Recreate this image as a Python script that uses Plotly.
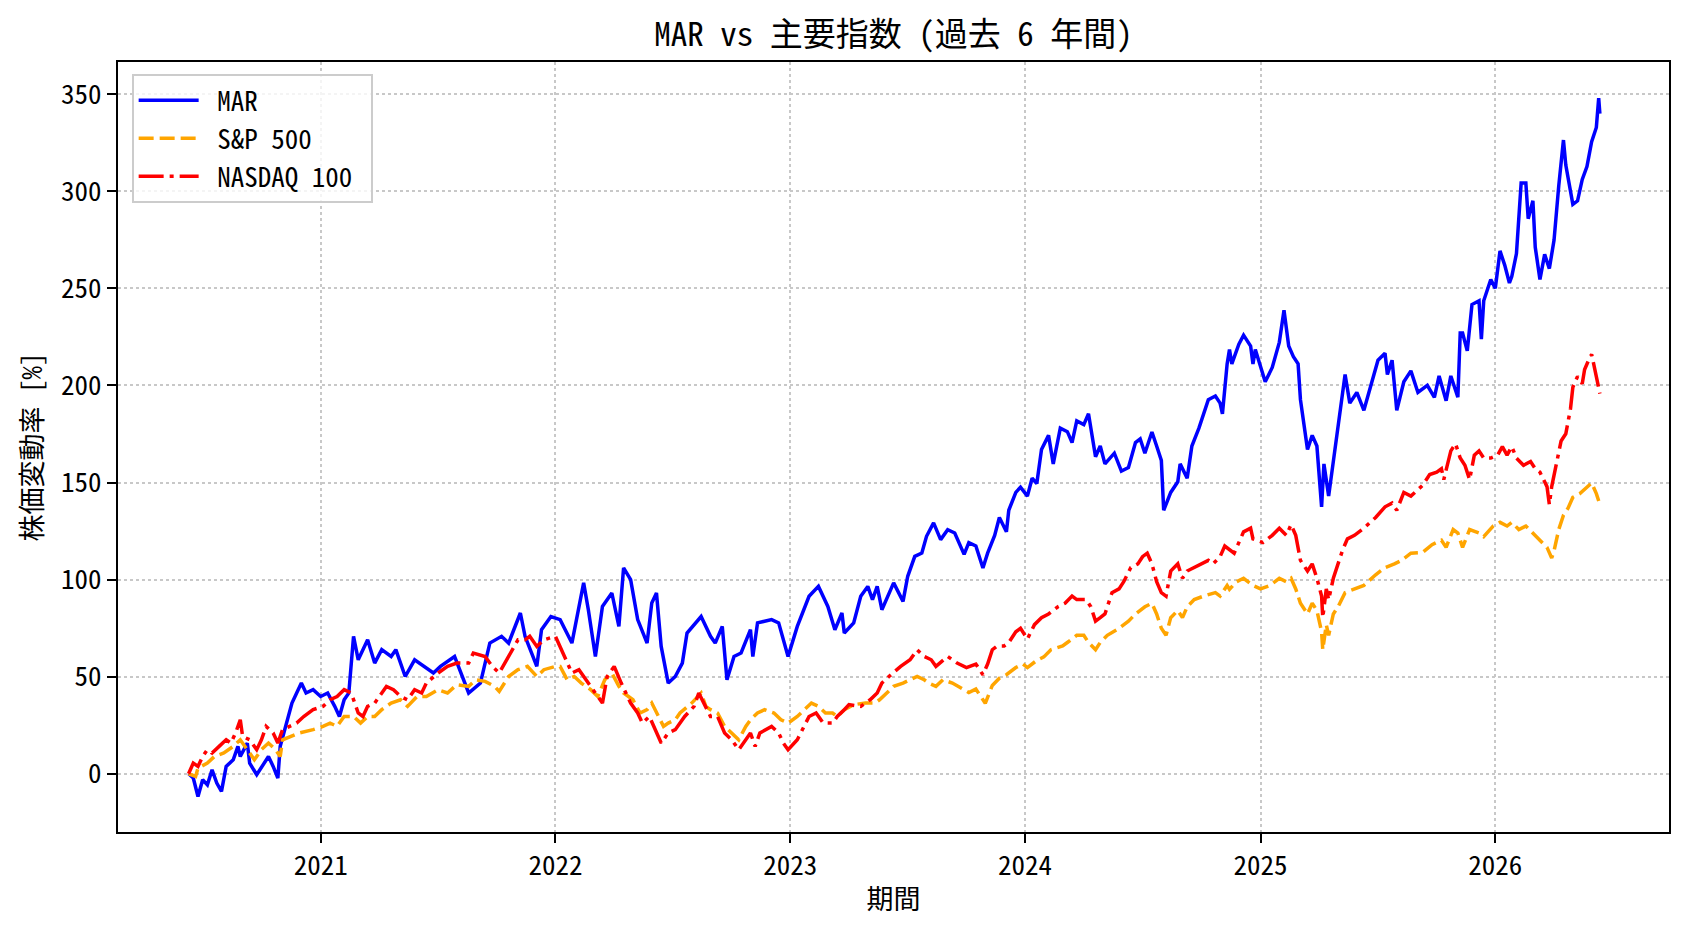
import plotly.graph_objects as go
import pandas as pd

# ---- data (decimal year, % change) ----
mar_t = [2020.44, 2020.46, 2020.48, 2020.50, 2020.52, 2020.54, 2020.56, 2020.58, 2020.60, 2020.63,
         2020.65, 2020.66, 2020.69, 2020.70, 2020.73, 2020.76, 2020.78, 2020.80, 2020.82, 2020.83,
         2020.86, 2020.88, 2020.90, 2020.92, 2020.94, 2020.97, 2021.00, 2021.03, 2021.06, 2021.08,
         2021.10, 2021.12, 2021.14, 2021.16, 2021.20, 2021.23, 2021.26, 2021.30, 2021.32, 2021.36,
         2021.40, 2021.44, 2021.48, 2021.51, 2021.57, 2021.63, 2021.68, 2021.72, 2021.77, 2021.80,
         2021.85, 2021.87, 2021.92, 2021.94, 2021.98, 2022.02, 2022.07, 2022.12, 2022.14, 2022.17,
         2022.20, 2022.24, 2022.27, 2022.29, 2022.32, 2022.35, 2022.39, 2022.41, 2022.43, 2022.45,
         2022.48, 2022.51, 2022.54, 2022.56, 2022.62, 2022.66, 2022.68, 2022.71, 2022.73, 2022.76,
         2022.79, 2022.83, 2022.84, 2022.86, 2022.92, 2022.95, 2022.99, 2023.03, 2023.08, 2023.12,
         2023.16, 2023.19, 2023.22, 2023.23, 2023.27, 2023.30, 2023.33, 2023.35, 2023.37, 2023.39,
         2023.44, 2023.48, 2023.50, 2023.53, 2023.56, 2023.58, 2023.61, 2023.64, 2023.67, 2023.70,
         2023.74, 2023.76, 2023.79, 2023.82, 2023.84, 2023.87, 2023.89, 2023.92, 2023.93, 2023.96,
         2023.98, 2024.01, 2024.03, 2024.05, 2024.07, 2024.10, 2024.12, 2024.15, 2024.18, 2024.20,
         2024.22, 2024.25, 2024.27, 2024.30, 2024.32, 2024.34, 2024.38, 2024.41, 2024.44, 2024.47,
         2024.49, 2024.51, 2024.54, 2024.56, 2024.58, 2024.59, 2024.62, 2024.65, 2024.66, 2024.69,
         2024.71, 2024.74, 2024.76, 2024.78, 2024.81, 2024.83, 2024.84, 2024.86, 2024.87, 2024.88,
         2024.91, 2024.93, 2024.96, 2024.97, 2024.98, 2025.02, 2025.05, 2025.08, 2025.10, 2025.12,
         2025.14, 2025.16, 2025.17, 2025.20, 2025.22, 2025.24, 2025.26, 2025.27, 2025.29, 2025.31,
         2025.33, 2025.36, 2025.38, 2025.41, 2025.44, 2025.47, 2025.50, 2025.53, 2025.54, 2025.56,
         2025.58, 2025.61, 2025.64, 2025.67, 2025.71, 2025.74, 2025.76, 2025.79, 2025.81, 2025.84,
         2025.85, 2025.86, 2025.88, 2025.90, 2025.93, 2025.94, 2025.95, 2025.98, 2026.00, 2026.02,
         2026.04, 2026.06, 2026.07, 2026.09, 2026.11, 2026.13, 2026.14, 2026.16, 2026.17, 2026.19,
         2026.21, 2026.23, 2026.25, 2026.27, 2026.29, 2026.30, 2026.33, 2026.35, 2026.37, 2026.39,
         2026.41, 2026.43, 2026.44, 2026.445]
mar_v = [0, -2.2, -11.7, -3.1, -5.7, 2, -4.8, -9.1, 3.8, 7.2,
         14.1, 8.9, 15.8, 5.5, -0.5, 5.5, 8.9, 3.8, -2.2, 14.1,
         27.8, 36.4, 41.6, 46.7, 41.6, 43.3, 39.8, 41.6, 34.7, 29.5,
         38.1, 41.6, 70.8, 58.7, 69, 57, 63.9, 60.4, 63.9, 50.1,
         58.7, 55.3, 51.9, 55.3, 60.4, 41.6, 46.7, 67.3, 70.8, 67.3,
         82.8, 70.8, 55.3, 74.2, 81, 79.4, 67.3, 98.3, 84.5, 60.4,
         86.2, 93.1, 75.9, 106, 100, 79.4, 67.3, 88, 93.1, 65.6,
         46.7, 50.1, 57, 72.5, 81, 70.8, 67.3, 75.9, 48.4, 60.4,
         62.2, 74.2, 60.4, 77.7, 79.4, 77.7, 60.4, 75.9, 91.4, 96.5,
         86.2, 74.2, 82.8, 72.5, 77.7, 91.4, 96.5, 89.7, 96.5, 84.5,
         98.3, 88.8, 101.7, 112, 113.7, 122.3, 129.2, 120.6, 125.7, 124,
         113, 119, 117.3, 106, 113.6, 122.8, 132, 124.6, 135.7, 144.9,
         147.6, 143, 152.2, 149.5, 167, 174.3, 159.6, 178, 176.2, 170.6,
         181.7, 179.8, 185.4, 163.3, 168.8, 159.6, 165.1, 155.9, 157.7, 170.6,
         172.5, 165.1, 176, 168.8, 161.4, 135.7, 144.9, 150.4, 159.6, 152.2,
         168.8, 178, 185.4, 192.7, 194.6, 190.9, 185.4, 211.1, 218.5, 211.1,
         221.3, 225.9, 220.3, 211.1, 218.5, 201.9, 209.3, 222.2, 238.7, 220.3,
         214.8, 211.1, 192.7, 167, 174.3, 168.8, 137.5, 159.6, 143, 161.4,
         179.8, 205.6, 190.9, 196.4, 187.2, 200.1, 213, 216.6, 205.6, 213,
         187.2, 201.9, 207.5, 196.4, 200.1, 193.9, 204.9, 192.1, 204.9, 193.9,
         227, 227, 217.8, 241.7, 243.6, 223.8, 243.6, 254.6, 250, 269.3,
         262, 252.8, 256.1, 267.9, 304.3, 304.3, 285.9, 295.1, 271.2, 254.6,
         267.5, 260.2, 274.9, 302.8, 326.4, 313.5, 293.3, 295.1, 306.1, 312.7,
         325.6, 332.9, 348, 340]

sp_t = [2020.44, 2020.47, 2020.48, 2020.52, 2020.55, 2020.59, 2020.63, 2020.66, 2020.69, 2020.72,
        2020.75, 2020.78, 2020.81, 2020.83, 2020.84, 2020.87, 2020.91, 2020.97, 2021.01, 2021.04,
        2021.07, 2021.10, 2021.14, 2021.17, 2021.20, 2021.23, 2021.26, 2021.30, 2021.34, 2021.37,
        2021.41, 2021.45, 2021.50, 2021.54, 2021.58, 2021.63, 2021.66, 2021.70, 2021.74, 2021.76,
        2021.80, 2021.84, 2021.88, 2021.92, 2021.95, 2022.00, 2022.02, 2022.05, 2022.08, 2022.11,
        2022.15, 2022.18, 2022.21, 2022.24, 2022.27, 2022.29, 2022.33, 2022.36, 2022.39, 2022.41,
        2022.44, 2022.46, 2022.48, 2022.51, 2022.53, 2022.58, 2022.62, 2022.64, 2022.66, 2022.69,
        2022.72, 2022.75, 2022.78, 2022.81, 2022.83, 2022.86, 2022.89, 2022.93, 2022.96, 2022.99,
        2023.03, 2023.06, 2023.09, 2023.12, 2023.15, 2023.18, 2023.20, 2023.23, 2023.27, 2023.32,
        2023.36, 2023.38, 2023.41, 2023.44, 2023.48, 2023.51, 2023.54, 2023.57, 2023.59, 2023.62,
        2023.65, 2023.69, 2023.73, 2023.76, 2023.79, 2023.82, 2023.83, 2023.86, 2023.89, 2023.92,
        2023.96, 2023.99, 2024.01, 2024.05, 2024.08, 2024.11, 2024.16, 2024.18, 2024.22, 2024.25,
        2024.27, 2024.30, 2024.32, 2024.35, 2024.40, 2024.44, 2024.47, 2024.51, 2024.54, 2024.56,
        2024.58, 2024.60, 2024.62, 2024.65, 2024.67, 2024.69, 2024.72, 2024.76, 2024.81, 2024.83,
        2024.86, 2024.87, 2024.90, 2024.93, 2024.97, 2025.00, 2025.04, 2025.08, 2025.11, 2025.13,
        2025.15, 2025.17, 2025.20, 2025.22, 2025.24, 2025.26, 2025.265, 2025.28, 2025.29, 2025.31,
        2025.33, 2025.36, 2025.40, 2025.44, 2025.49, 2025.53, 2025.57, 2025.60, 2025.64, 2025.69,
        2025.73, 2025.77, 2025.79, 2025.82, 2025.84, 2025.86, 2025.89, 2025.93, 2025.95, 2025.99,
        2026.02, 2026.05, 2026.07, 2026.10, 2026.13, 2026.16, 2026.19, 2026.22, 2026.24, 2026.25,
        2026.27, 2026.29, 2026.31, 2026.33, 2026.36, 2026.39, 2026.41, 2026.43, 2026.445]
sp_v = [0, -1.4, 2.9, 5.5, 8.9, 10.7, 14.1, 17.5, 12.4, 7.2,
        12.4, 15.8, 12.4, 8.9, 17.5, 19.2, 21, 22.7, 24.4, 26.1,
        24.4, 29.5, 29.5, 26.1, 29.5, 29.5, 33, 36.4, 38.1, 34.7,
        39.8, 39.8, 43.3, 41.6, 45.9, 45, 48.4, 47.6, 45, 42.4,
        50.1, 53.6, 55.3, 50.1, 53.6, 55.3, 55.3, 48.4, 50.1, 46.7,
        43.3, 39.8, 48.4, 51.9, 45, 41.6, 38.1, 31.3, 33, 36.4,
        29.5, 24.4, 26.1, 27.8, 31.3, 36.4, 41.6, 34.7, 33, 31.3,
        24.4, 21, 17.5, 24.4, 27.8, 31.3, 33, 31.3, 27.8, 26.1,
        29.5, 33, 36.4, 34.7, 31.3, 31.3, 29.5, 33, 35.6, 36.4,
        36.4, 38.1, 41.6, 45, 46.7, 48.4, 50.1, 48.4, 46.7, 45,
        48.4, 46.7, 43.6, 41.8, 43.6, 38.1, 36.3, 45.5, 49.2, 51,
        54.7, 56.5, 54.7, 58.4, 60.2, 63.9, 65.8, 67.6, 71.3, 71.3,
        67.6, 63.9, 67.6, 71.3, 74.9, 78.6, 82.3, 86, 87.8, 82.3,
        74.9, 71.3, 80.4, 84.1, 80.4, 86, 89.7, 91.5, 93.3, 91.5,
        97, 95, 98.9, 100.7, 97, 95.2, 97, 100.7, 98.9, 100.7,
        95.2, 87.8, 82.3, 87.8, 84.1, 73.1, 63.9, 76.8, 71.3, 82.3,
        86, 93.3, 95.2, 97, 102.5, 106.2, 108.1, 109.9, 113.6, 114,
        118, 120.3, 116.6, 125.8, 124, 116.6, 125.8, 124, 122.1, 127.6,
        129.5, 127.6, 129.5, 125.8, 127.6, 124, 120.3, 116.6, 111.1, 114.8,
        125.8, 133.2, 136.9, 142.4, 144.3, 147.9, 149.8, 144.3, 138.7]

nq_t = [2020.44, 2020.46, 2020.48, 2020.50, 2020.52, 2020.54, 2020.57, 2020.60, 2020.62, 2020.64,
        2020.66, 2020.67, 2020.70, 2020.73, 2020.75, 2020.77, 2020.80, 2020.82, 2020.84, 2020.87,
        2020.90, 2020.93, 2020.97, 2021.01, 2021.04, 2021.07, 2021.10, 2021.13, 2021.16, 2021.18,
        2021.20, 2021.23, 2021.26, 2021.28, 2021.31, 2021.34, 2021.37, 2021.40, 2021.43, 2021.45,
        2021.50, 2021.54, 2021.58, 2021.63, 2021.65, 2021.70, 2021.73, 2021.76, 2021.80, 2021.84,
        2021.87, 2021.89, 2021.92, 2021.95, 2022.00, 2022.04, 2022.07, 2022.10, 2022.12, 2022.15,
        2022.20, 2022.22, 2022.25, 2022.28, 2022.32, 2022.35, 2022.37, 2022.40, 2022.42, 2022.45,
        2022.48, 2022.51, 2022.55, 2022.59, 2022.61, 2022.63, 2022.66, 2022.69, 2022.72, 2022.75,
        2022.78, 2022.81, 2022.83, 2022.85, 2022.87, 2022.92, 2022.95, 2022.97, 2022.99, 2023.03,
        2023.06, 2023.08, 2023.11, 2023.14, 2023.18, 2023.20, 2023.23, 2023.25, 2023.30, 2023.34,
        2023.37, 2023.39, 2023.42, 2023.47, 2023.51, 2023.54, 2023.57, 2023.60, 2023.62, 2023.67,
        2023.71, 2023.75, 2023.79, 2023.82, 2023.84, 2023.86, 2023.88, 2023.91, 2023.93, 2023.96,
        2023.98, 2024.01, 2024.04, 2024.07, 2024.10, 2024.14, 2024.17, 2024.20, 2024.22, 2024.26,
        2024.28, 2024.30, 2024.32, 2024.34, 2024.37, 2024.40, 2024.42, 2024.45, 2024.48, 2024.50,
        2024.52, 2024.54, 2024.56, 2024.58, 2024.60, 2024.62, 2024.65, 2024.67, 2024.69, 2024.72,
        2024.75, 2024.78, 2024.80, 2024.83, 2024.85, 2024.89, 2024.93, 2024.96, 2024.97, 2025.01,
        2025.05, 2025.08, 2025.11, 2025.13, 2025.15, 2025.17, 2025.20, 2025.22, 2025.24, 2025.26,
        2025.265, 2025.28, 2025.29, 2025.31, 2025.33, 2025.35, 2025.37, 2025.40, 2025.44, 2025.49,
        2025.53, 2025.56, 2025.58, 2025.61, 2025.64, 2025.67, 2025.69, 2025.72, 2025.75, 2025.77,
        2025.78, 2025.81, 2025.83, 2025.85, 2025.87, 2025.89, 2025.91, 2025.93, 2025.95, 2025.98,
        2026.01, 2026.03, 2026.05, 2026.07, 2026.09, 2026.12, 2026.15, 2026.17, 2026.19, 2026.22,
        2026.23, 2026.24, 2026.25, 2026.27, 2026.28, 2026.30, 2026.31, 2026.32, 2026.33, 2026.35,
        2026.37, 2026.38, 2026.40, 2026.41, 2026.43, 2026.445]
nq_v = [0, 5.5, 3.8, 8.9, 12.4, 10.7, 14.1, 17.5, 15.8, 21,
        27.8, 19.2, 17.5, 12.4, 17.5, 24.4, 21, 15.8, 22.7, 24.4,
        26.1, 29.5, 33, 34.7, 38.1, 39.8, 43.3, 41.6, 31.3, 29.5,
        34.7, 36.4, 41.6, 45, 43.3, 39.8, 38.1, 43.3, 41.6, 46.7,
        51.9, 55.3, 57, 57, 62.2, 60.4, 55.3, 51.9, 60.4, 69,
        69, 70.8, 65.6, 69, 70.8, 60.4, 51.9, 53.6, 50.1, 45,
        36.4, 50.1, 55.3, 46.7, 36.4, 31.3, 26.1, 29.5, 24.4, 15.8,
        21, 22.7, 29.5, 34.7, 41.6, 36.4, 29.5, 29.5, 21, 17.5,
        12.4, 17.5, 21, 14.1, 21, 24.4, 21, 15.8, 12.4, 17.5,
        24.4, 29.5, 31.3, 26.1, 26.1, 29.5, 33, 35.6, 34.7, 38.1,
        41.6, 46.7, 50.1, 55.3, 58.7, 63.9, 60.4, 58.7, 55.3, 60.4,
        57, 54.7, 56.5, 51, 56.5, 63.9, 65.8, 65.8, 67.6, 73.1,
        74.9, 69.4, 76.8, 80.4, 82.3, 86, 87.8, 91.5, 89.7, 89.7,
        86, 78.6, 80.4, 82.3, 93.3, 95.2, 98.9, 106.2, 108.1, 111.8,
        113.6, 108.1, 98.9, 93.3, 91.5, 104.4, 108.1, 100.7, 104.4, 106.2,
        108.1, 109.9, 108.1, 111.8, 117.3, 113.6, 124.6, 126.5, 121, 119.1,
        122.8, 126.5, 122.8, 128.3, 122.8, 109.9, 104.4, 108.1, 100.7, 91.5,
        80.4, 95.2, 89.7, 100.7, 108.1, 115.4, 121, 122.8, 126.5, 132,
        137.5, 139.4, 135.7, 144.9, 143, 146.7, 148.6, 154.1, 155.3, 157.1,
        151.5, 166.3, 170, 162.6, 158.9, 151.5, 164.1, 166.3, 162.6, 162.6,
        164.1, 168.5, 164.1, 168.5, 162.6, 158.9, 160.8, 157.1, 155.3, 147.9,
        138.7, 147.9, 153.4, 164.1, 171.4, 175.1, 180.7, 188, 199.1, 204.6,
        200.9, 208.2, 213.8, 216, 204.6, 195.8]

year_ticks = [2021, 2022, 2023, 2024, 2025, 2026]
y_ticks = [0, 50, 100, 150, 200, 250, 300, 350]

series_names = ["MAR", "S&P 500", "NASDAQ 100"]
title_text = "MAR vs 主要指数 (過去 6 年間)"
x_label = "期間"
y_label = "株価変動率 [%]"


def to_dates(ts):
    out = []
    for t in ts:
        y = int(t)
        out.append(pd.Timestamp(year=y, month=1, day=1) + pd.Timedelta(days=(t - y) * 365.25))
    return out


FONT = "Noto Sans Mono CJK JP, Noto Sans CJK JP, sans-serif"
NB = "\u00a0"  # padding so legend text sits where the reference puts it

fig = go.Figure()
fig.add_trace(go.Scatter(x=to_dates(mar_t), y=mar_v, mode="lines", name=NB + series_names[0] + NB,
                         legendgroup="a", line=dict(color="#0000ff", width=3.5)))
fig.add_trace(go.Scatter(x=to_dates(sp_t), y=sp_v, mode="lines", name=NB + series_names[1] + NB,
                         legendgroup="b", line=dict(color="#ffa500", width=3.5, dash="15px,6px")))
fig.add_trace(go.Scatter(x=to_dates(nq_t), y=nq_v, mode="lines", name=NB + series_names[2] + NB,
                         legendgroup="c", line=dict(color="#ff0000", width=3.5, dash="25px,6px,4px,6px")))

axis_common = dict(
    showline=True, linecolor="black", linewidth=2, mirror=True,
    ticks="outside", ticklen=9, tickwidth=2, tickcolor="black",
    showgrid=True, gridcolor="#c8c8c8", gridwidth=1.5, griddash="dot",
    zeroline=False, tickfont=dict(size=27, color="black", family=FONT),
)

fig.update_xaxes(
    type="date",
    range=[pd.Timestamp("2020-02-21"), pd.Timestamp("2026-09-28")],
    tickvals=[pd.Timestamp(year=y, month=1, day=1) for y in year_ticks],
    ticktext=[str(y) for y in year_ticks],
    title=dict(text=x_label, font=dict(size=27, color="black", family=FONT), standoff=8),
    **axis_common,
)
fig.update_yaxes(
    range=[-30, 366.6],
    tickvals=y_ticks,
    ticktext=[str(v) for v in y_ticks],
    title=dict(text=y_label, font=dict(size=27, color="black", family=FONT), standoff=11),
    **axis_common,
)

fig.update_layout(
    width=1688, height=932,
    margin=dict(l=118, r=19, t=62, b=100, autoexpand=False),
    paper_bgcolor="white", plot_bgcolor="white",
    font=dict(family=FONT, size=27, color="black"),
    title=dict(text=title_text, x=0.5, xref="paper", xanchor="center",
               y=1 - 34.5 / 932, yref="container", yanchor="middle",
               font=dict(size=33, color="black", family=FONT)),
    legend=dict(x=0.0088, y=0.9843, xanchor="left", yanchor="top",
                bgcolor="rgba(255,255,255,0.8)", bordercolor="#cccccc", borderwidth=2,
                font=dict(size=27, color="black", family=FONT),
                tracegroupgap=0, itemwidth=60),
    showlegend=True,
)

fig.write_html("out.html")
